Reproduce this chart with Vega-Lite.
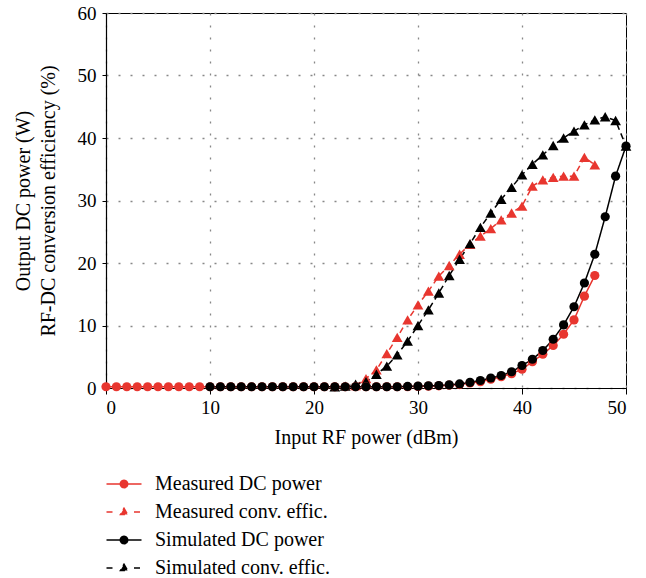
{
  "$schema": "https://vega.github.io/schema/vega-lite/v6.json",
  "width": 520,
  "height": 375,
  "autosize": {"type": "none"},
  "padding": {"left": 106, "top": 13, "right": 20, "bottom": 190},
  "config": {"font": "Liberation Serif", "view": {"stroke": "#000", "strokeWidth": 1}},
  "datasets": {
    "pts": [
      {"x": 24, "y": 0.4, "s": "Measured conv. effic."},
      {"x": 25, "y": 1.5, "s": "Measured conv. effic."},
      {"x": 26, "y": 2.9, "s": "Measured conv. effic."},
      {"x": 27, "y": 5.5, "s": "Measured conv. effic."},
      {"x": 28, "y": 8.1, "s": "Measured conv. effic."},
      {"x": 29, "y": 10.9, "s": "Measured conv. effic."},
      {"x": 30, "y": 13.3, "s": "Measured conv. effic."},
      {"x": 31, "y": 15.5, "s": "Measured conv. effic."},
      {"x": 32, "y": 17.9, "s": "Measured conv. effic."},
      {"x": 33, "y": 19.6, "s": "Measured conv. effic."},
      {"x": 34, "y": 21.4, "s": "Measured conv. effic."},
      {"x": 35, "y": 23.0, "s": "Measured conv. effic."},
      {"x": 36, "y": 24.3, "s": "Measured conv. effic."},
      {"x": 37, "y": 25.5, "s": "Measured conv. effic."},
      {"x": 38, "y": 26.9, "s": "Measured conv. effic."},
      {"x": 39, "y": 28.0, "s": "Measured conv. effic."},
      {"x": 40, "y": 29.1, "s": "Measured conv. effic."},
      {"x": 41, "y": 32.3, "s": "Measured conv. effic."},
      {"x": 42, "y": 33.3, "s": "Measured conv. effic."},
      {"x": 43, "y": 33.7, "s": "Measured conv. effic."},
      {"x": 44, "y": 33.9, "s": "Measured conv. effic."},
      {"x": 45, "y": 33.9, "s": "Measured conv. effic."},
      {"x": 46, "y": 36.9, "s": "Measured conv. effic."},
      {"x": 47, "y": 35.7, "s": "Measured conv. effic."},
      {"x": 22, "y": 0.2, "s": "Simulated conv. effic."},
      {"x": 23, "y": 0.3, "s": "Simulated conv. effic."},
      {"x": 24, "y": 0.6, "s": "Simulated conv. effic."},
      {"x": 25, "y": 1.0, "s": "Simulated conv. effic."},
      {"x": 26, "y": 2.2, "s": "Simulated conv. effic."},
      {"x": 27, "y": 3.5, "s": "Simulated conv. effic."},
      {"x": 28, "y": 5.3, "s": "Simulated conv. effic."},
      {"x": 29, "y": 7.5, "s": "Simulated conv. effic."},
      {"x": 30, "y": 10.0, "s": "Simulated conv. effic."},
      {"x": 31, "y": 12.5, "s": "Simulated conv. effic."},
      {"x": 32, "y": 15.2, "s": "Simulated conv. effic."},
      {"x": 33, "y": 18.0, "s": "Simulated conv. effic."},
      {"x": 34, "y": 20.6, "s": "Simulated conv. effic."},
      {"x": 35, "y": 23.1, "s": "Simulated conv. effic."},
      {"x": 36, "y": 25.7, "s": "Simulated conv. effic."},
      {"x": 37, "y": 28.0, "s": "Simulated conv. effic."},
      {"x": 38, "y": 30.2, "s": "Simulated conv. effic."},
      {"x": 39, "y": 32.1, "s": "Simulated conv. effic."},
      {"x": 40, "y": 34.1, "s": "Simulated conv. effic."},
      {"x": 41, "y": 35.8, "s": "Simulated conv. effic."},
      {"x": 42, "y": 37.3, "s": "Simulated conv. effic."},
      {"x": 43, "y": 38.8, "s": "Simulated conv. effic."},
      {"x": 44, "y": 40.0, "s": "Simulated conv. effic."},
      {"x": 45, "y": 41.1, "s": "Simulated conv. effic."},
      {"x": 46, "y": 42.1, "s": "Simulated conv. effic."},
      {"x": 47, "y": 42.9, "s": "Simulated conv. effic."},
      {"x": 48, "y": 43.4, "s": "Simulated conv. effic."},
      {"x": 49, "y": 42.8, "s": "Simulated conv. effic."},
      {"x": 50, "y": 38.7, "s": "Simulated conv. effic."},
      {"x": 0, "y": 0.2, "s": "Measured DC power"},
      {"x": 1, "y": 0.2, "s": "Measured DC power"},
      {"x": 2, "y": 0.2, "s": "Measured DC power"},
      {"x": 3, "y": 0.2, "s": "Measured DC power"},
      {"x": 4, "y": 0.2, "s": "Measured DC power"},
      {"x": 5, "y": 0.2, "s": "Measured DC power"},
      {"x": 6, "y": 0.2, "s": "Measured DC power"},
      {"x": 7, "y": 0.2, "s": "Measured DC power"},
      {"x": 8, "y": 0.2, "s": "Measured DC power"},
      {"x": 9, "y": 0.2, "s": "Measured DC power"},
      {"x": 10, "y": 0.2, "s": "Measured DC power"},
      {"x": 11, "y": 0.2, "s": "Measured DC power"},
      {"x": 12, "y": 0.2, "s": "Measured DC power"},
      {"x": 13, "y": 0.2, "s": "Measured DC power"},
      {"x": 14, "y": 0.2, "s": "Measured DC power"},
      {"x": 15, "y": 0.2, "s": "Measured DC power"},
      {"x": 16, "y": 0.2, "s": "Measured DC power"},
      {"x": 17, "y": 0.2, "s": "Measured DC power"},
      {"x": 18, "y": 0.2, "s": "Measured DC power"},
      {"x": 19, "y": 0.2, "s": "Measured DC power"},
      {"x": 20, "y": 0.2, "s": "Measured DC power"},
      {"x": 21, "y": 0.2, "s": "Measured DC power"},
      {"x": 22, "y": 0.2, "s": "Measured DC power"},
      {"x": 23, "y": 0.2, "s": "Measured DC power"},
      {"x": 24, "y": 0.2, "s": "Measured DC power"},
      {"x": 25, "y": 0.2, "s": "Measured DC power"},
      {"x": 26, "y": 0.2, "s": "Measured DC power"},
      {"x": 27, "y": 0.2, "s": "Measured DC power"},
      {"x": 28, "y": 0.2, "s": "Measured DC power"},
      {"x": 29, "y": 0.2, "s": "Measured DC power"},
      {"x": 30, "y": 0.25, "s": "Measured DC power"},
      {"x": 31, "y": 0.3, "s": "Measured DC power"},
      {"x": 32, "y": 0.35, "s": "Measured DC power"},
      {"x": 33, "y": 0.45, "s": "Measured DC power"},
      {"x": 34, "y": 0.55, "s": "Measured DC power"},
      {"x": 35, "y": 0.8, "s": "Measured DC power"},
      {"x": 36, "y": 1.0, "s": "Measured DC power"},
      {"x": 37, "y": 1.4, "s": "Measured DC power"},
      {"x": 38, "y": 1.8, "s": "Measured DC power"},
      {"x": 39, "y": 2.3, "s": "Measured DC power"},
      {"x": 40, "y": 3.0, "s": "Measured DC power"},
      {"x": 41, "y": 4.2, "s": "Measured DC power"},
      {"x": 42, "y": 5.4, "s": "Measured DC power"},
      {"x": 43, "y": 6.8, "s": "Measured DC power"},
      {"x": 44, "y": 8.6, "s": "Measured DC power"},
      {"x": 45, "y": 10.9, "s": "Measured DC power"},
      {"x": 46, "y": 14.7, "s": "Measured DC power"},
      {"x": 47, "y": 18.0, "s": "Measured DC power"},
      {"x": 10, "y": 0.2, "s": "Simulated DC power"},
      {"x": 11, "y": 0.2, "s": "Simulated DC power"},
      {"x": 12, "y": 0.2, "s": "Simulated DC power"},
      {"x": 13, "y": 0.2, "s": "Simulated DC power"},
      {"x": 14, "y": 0.2, "s": "Simulated DC power"},
      {"x": 15, "y": 0.2, "s": "Simulated DC power"},
      {"x": 16, "y": 0.2, "s": "Simulated DC power"},
      {"x": 17, "y": 0.2, "s": "Simulated DC power"},
      {"x": 18, "y": 0.2, "s": "Simulated DC power"},
      {"x": 19, "y": 0.2, "s": "Simulated DC power"},
      {"x": 20, "y": 0.2, "s": "Simulated DC power"},
      {"x": 21, "y": 0.2, "s": "Simulated DC power"},
      {"x": 22, "y": 0.2, "s": "Simulated DC power"},
      {"x": 23, "y": 0.2, "s": "Simulated DC power"},
      {"x": 24, "y": 0.2, "s": "Simulated DC power"},
      {"x": 25, "y": 0.2, "s": "Simulated DC power"},
      {"x": 26, "y": 0.2, "s": "Simulated DC power"},
      {"x": 27, "y": 0.2, "s": "Simulated DC power"},
      {"x": 28, "y": 0.2, "s": "Simulated DC power"},
      {"x": 29, "y": 0.25, "s": "Simulated DC power"},
      {"x": 30, "y": 0.3, "s": "Simulated DC power"},
      {"x": 31, "y": 0.35, "s": "Simulated DC power"},
      {"x": 32, "y": 0.4, "s": "Simulated DC power"},
      {"x": 33, "y": 0.5, "s": "Simulated DC power"},
      {"x": 34, "y": 0.65, "s": "Simulated DC power"},
      {"x": 35, "y": 0.9, "s": "Simulated DC power"},
      {"x": 36, "y": 1.2, "s": "Simulated DC power"},
      {"x": 37, "y": 1.6, "s": "Simulated DC power"},
      {"x": 38, "y": 2.0, "s": "Simulated DC power"},
      {"x": 39, "y": 2.6, "s": "Simulated DC power"},
      {"x": 40, "y": 3.6, "s": "Simulated DC power"},
      {"x": 41, "y": 4.6, "s": "Simulated DC power"},
      {"x": 42, "y": 6.0, "s": "Simulated DC power"},
      {"x": 43, "y": 7.8, "s": "Simulated DC power"},
      {"x": 44, "y": 10.1, "s": "Simulated DC power"},
      {"x": 45, "y": 13.0, "s": "Simulated DC power"},
      {"x": 46, "y": 16.8, "s": "Simulated DC power"},
      {"x": 47, "y": 21.4, "s": "Simulated DC power"},
      {"x": 48, "y": 27.4, "s": "Simulated DC power"},
      {"x": 49, "y": 33.9, "s": "Simulated DC power"},
      {"x": 50, "y": 38.7, "s": "Simulated DC power"}
    ]
  },
  "data": {"name": "pts"},
  "encoding": {
    "x": {
      "field": "x", "type": "quantitative",
      "scale": {"domain": [0, 50], "nice": false},
      "axis": {
        "title": "Input RF power (dBm)", "values": [0, 10, 20, 30, 40, 50],
        "grid": true, "gridDash": [2, 10], "gridColor": "#888", "gridWidth": 1.3,
        "domainColor": "#000", "domainWidth": 1.2, "tickColor": "#000", "tickSize": 6,
        "labelFont": "Liberation Serif", "labelFontSize": 19, "labelColor": "#000", "labelPadding": 4,
        "titleFont": "Liberation Serif", "titleFontSize": 20, "titleFontWeight": "normal", "titleColor": "#000", "titlePadding": 10
      }
    },
    "y": {
      "field": "y", "type": "quantitative",
      "scale": {"domain": [0, 60], "nice": false},
      "axis": {
        "title": ["Output DC power (W)", "RF-DC conversion efficiency (%)"],
        "values": [0, 10, 20, 30, 40, 50, 60],
        "grid": true, "gridDash": [2, 10], "gridColor": "#888", "gridWidth": 1.3,
        "domainColor": "#000", "domainWidth": 1.2, "tickColor": "#000", "tickSize": 4,
        "labelFont": "Liberation Serif", "labelFontSize": 19, "labelColor": "#000", "labelPadding": 6,
        "titleFont": "Liberation Serif", "titleFontSize": 20, "titleFontWeight": "normal", "titleColor": "#000",
        "titleLineHeight": 25, "titlePadding": 19
      }
    },
    "color": {
      "field": "s", "type": "nominal",
      "scale": {
        "domain": ["Measured DC power", "Measured conv. effic.", "Simulated DC power", "Simulated conv. effic."],
        "range": ["#e8362f", "#e8362f", "#000000", "#000000"]
      },
      "legend": {
        "title": null, "orient": "none", "legendX": 7, "legendY": 460, "direction": "vertical",
        "symbolSize": 400, "labelFontSize": 20, "labelFont": "Liberation Serif", "labelColor": "#000",
        "labelLimit": 400, "labelOffset": 20, "rowPadding": 7, "padding": 0, "symbolStrokeWidth": 1.5,
        "encode": {
          "symbols": {
            "update": {
              "shape": {"signal": "indexof(datum.value, 'DC') >= 0 ? 'M-1.75,0H1.75M-0.37,0A0.37,0.37 0 1,0 0.37,0A0.37,0.37 0 1,0 -0.37,0Z' : 'M-1.75,0H-1.05M1,0H1.75M0,-0.38L0.36,0.26L-0.36,0.26Z'"},
              "fill": {"scale": "color", "field": "value"},
              "stroke": {"scale": "color", "field": "value"},
              "strokeWidth": {"value": 1.5},
              "strokeDash": {"value": [1, 0]},
              "opacity": {"value": 1},
              "fillOpacity": {"value": 1}
            }
          }
        }
      }
    }
  },
  "layer": [
    {
      "mark": {"type": "line", "strokeWidth": 1.5},
      "encoding": {
        "strokeDash": {
          "field": "s", "type": "nominal", "legend": null,
          "scale": {
            "domain": ["Measured DC power", "Measured conv. effic.", "Simulated DC power", "Simulated conv. effic."],
            "range": [[1, 0], [6, 4], [1, 0], [6, 4]]
          }
        }
      }
    },
    {
      "transform": [{"filter": "indexof(datum.s, 'effic') >= 0"}],
      "mark": {"type": "point", "filled": true, "opacity": 1, "shape": "triangle-up", "size": 115}
    },
    {
      "transform": [{"filter": "indexof(datum.s, 'DC') >= 0"}],
      "mark": {"type": "point", "filled": true, "opacity": 1, "shape": "circle", "size": 85}
    }
  ]
}
